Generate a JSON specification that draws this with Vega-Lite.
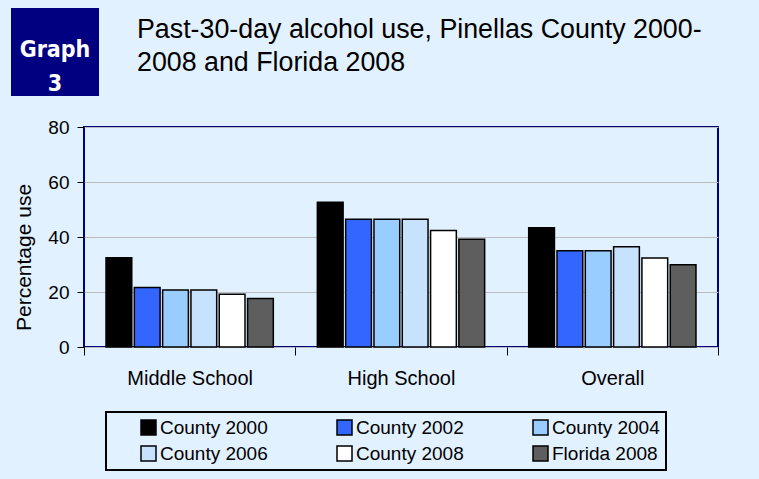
{
  "$schema": "https://vega.github.io/schema/vega-lite/v6.json",
  "background": "#e1f1ff",
  "padding": {"left": 11, "top": 8, "right": 41, "bottom": 8},
  "config": {
    "font": "Liberation Sans",
    "view": {"stroke": "#000080", "strokeWidth": 2}
  },
  "spacing": 21,
  "resolve": {"scale": {"fill": "independent"}, "legend": {"fill": "independent"}},
  "vconcat": [
    {
      "spacing": 0,
      "hconcat": [
        {
          "width": 88,
          "height": 88,
          "view": {"fill": "#000080", "stroke": null},
          "data": {"values": [{"label": "Graph\n3"}]},
          "mark": {
            "type": "text",
            "lineBreak": "\n",
            "lineHeight": 34,
            "font": "DejaVu Sans Condensed, Liberation Sans Narrow, sans-serif",
            "fontWeight": "bold",
            "fontSize": 23,
            "color": "#ffffff",
            "dy": -2
          },
          "encoding": {"text": {"field": "label", "type": "nominal"}}
        },
        {
          "width": 76,
          "height": 60,
          "view": {"stroke": null},
          "data": {"values": [{"label": "Past-30-day alcohol use, Pinellas County 2000-\n2008 and Florida 2008"}]},
          "mark": {
            "type": "text",
            "lineBreak": "\n",
            "lineHeight": 33,
            "align": "left",
            "baseline": "alphabetic",
            "font": "Liberation Sans",
            "fontSize": 26.8,
            "color": "#000000"
          },
          "encoding": {"text": {"field": "label", "type": "nominal"}}
        }
      ]
    },
    {
      "spacing": 0,
      "resolve": {"scale": {"fill": "independent"}, "legend": {"fill": "independent"}},
      "hconcat": [
        {
          "width": 1,
          "height": 1,
          "view": {"stroke": null},
          "data": {"values": []},
          "mark": "text",
          "encoding": {}
        },
        {
          "width": 634,
          "height": 220,
          "data": {
            "values": [
              {"group": "Middle School", "series": "County 2000", "value": 32.5},
              {"group": "Middle School", "series": "County 2002", "value": 21.6},
              {"group": "Middle School", "series": "County 2004", "value": 20.7},
              {"group": "Middle School", "series": "County 2006", "value": 20.7},
              {"group": "Middle School", "series": "County 2008", "value": 19.2},
              {"group": "Middle School", "series": "Florida 2008", "value": 17.6},
              {"group": "High School", "series": "County 2000", "value": 52.6},
              {"group": "High School", "series": "County 2002", "value": 46.5},
              {"group": "High School", "series": "County 2004", "value": 46.5},
              {"group": "High School", "series": "County 2006", "value": 46.5},
              {"group": "High School", "series": "County 2008", "value": 42.4},
              {"group": "High School", "series": "Florida 2008", "value": 39.2},
              {"group": "Overall", "series": "County 2000", "value": 43.4},
              {"group": "Overall", "series": "County 2002", "value": 35.0},
              {"group": "Overall", "series": "County 2004", "value": 35.0},
              {"group": "Overall", "series": "County 2006", "value": 36.5},
              {"group": "Overall", "series": "County 2008", "value": 32.4},
              {"group": "Overall", "series": "Florida 2008", "value": 29.9}
            ]
          },
          "mark": {"type": "bar", "stroke": "#000000", "strokeWidth": 1.5},
          "encoding": {
            "x": {
              "field": "group",
              "type": "nominal",
              "sort": ["Middle School", "High School", "Overall"],
              "scale": {"paddingInner": 0, "paddingOuter": 0},
              "axis": {
                "title": null,
                "labelAngle": 0,
                "labelFontSize": 20,
                "labelColor": "#000000",
                "labelPadding": 13,
                "tickBand": "extent",
                "ticks": true,
                "tickSize": 8,
                "tickColor": "#000000",
                "tickWidth": 1,
                "domain": false,
                "grid": false
              }
            },
            "xOffset": {
              "field": "series",
              "type": "nominal",
              "sort": ["County 2000", "County 2002", "County 2004", "County 2006", "County 2008", "Florida 2008"],
              "scale": {"paddingInner": 0.09, "paddingOuter": 0.778}
            },
            "y": {
              "field": "value",
              "type": "quantitative",
              "scale": {"domain": [0, 80], "nice": false},
              "axis": {
                "values": [0, 20, 40, 60, 80],
                "title": "Percentage use",
                "titleFontSize": 21,
                "titleFontWeight": "normal",
                "titleColor": "#000000",
                "titleY": 130,
                "titleX": -54,
                "titleAngle": 270,
                "titleAlign": "center",
                "titleBaseline": "alphabetic",
                "labelFontSize": 19,
                "labelColor": "#000000",
                "labelPadding": 8,
                "tickSize": 7,
                "tickColor": "#000000",
                "tickWidth": 1,
                "domain": false,
                "grid": true,
                "gridColor": "#bcbcbc",
                "gridWidth": 1
              }
            },
            "fill": {
              "field": "series",
              "type": "nominal",
              "scale": {
                "domain": ["County 2000", "County 2002", "County 2004", "County 2006", "County 2008", "Florida 2008"],
                "range": ["#000000", "#3366ff", "#99ccff", "#c6e2fd", "#ffffff", "#5e5e5e"]
              },
              "legend": {
                "orient": "none",
                "legendX": 22,
                "legendY": 285,
                "direction": "horizontal",
                "columns": 3,
                "title": null,
                "symbolType": "square",
                "symbolSize": 225,
                "symbolStrokeColor": "#000000",
                "symbolStrokeWidth": 1.5,
                "symbolOffset": 27,
                "labelFontSize": 19,
                "labelColor": "#000000",
                "labelOffset": 2,
                "columnPadding": 40,
                "rowPadding": 5,
                "padding": 6,
                "strokeColor": "#000000",
                "fillColor": "#e1f1ff",
                "encode": {"legend": {"update": {"strokeWidth": {"value": 2}}}}
              }
            }
          }
        }
      ]
    }
  ]
}
